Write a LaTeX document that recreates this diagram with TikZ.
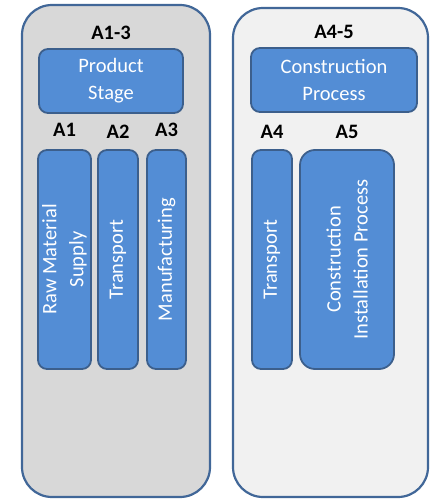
\documentclass[tikz,border=0pt]{standalone}
\usepackage{fontspec}
\setmainfont{Carlito}
\usepackage{tikz}
\usetikzlibrary{positioning}
\definecolor{boxblue}{RGB}{83,141,213}
\definecolor{edgeblue}{RGB}{60,95,140}
\definecolor{frameblue}{RGB}{65,103,152}
\definecolor{darkpanel}{RGB}{216,216,216}
\definecolor{lightpanel}{RGB}{241,241,241}
\tikzstyle{panel} = [rectangle, draw=frameblue, line width=2.2pt, rounded corners=30pt, inner sep=0pt]
\tikzstyle{block} = [rectangle, draw=edgeblue, line width=1.8pt, fill=boxblue,
rounded corners=9pt, inner sep=0pt, text=white, align=center, font=\fontsize{20.5}{27}\selectfont]
\tikzstyle{bar} = [block, minimum height=219pt]
\tikzstyle{vtext} = [rotate=90, text=white, align=center, inner sep=0pt, font=\fontsize{20.5}{27}\selectfont]
\tikzstyle{tag} = [inner sep=0pt, font=\bfseries\fontsize{20.5}{22}\selectfont]

\begin{document}
\begin{tikzpicture}[x=1pt, y=-1pt]
\useasboundingbox (0,0) rectangle (429,500);
    % panels
\node [panel, fill=darkpanel, minimum width=188pt, minimum height=492pt] (left) at (116,251) {};
\node [panel, fill=lightpanel, minimum width=195pt, minimum height=489pt] (right) at (330.5,252.5) {};
    % stage boxes
\node [block, minimum width=144pt, minimum height=64pt] (prod) at (111,81) {Product\\Stage};
\node [block, minimum width=166pt, minimum height=64pt] (constr) at (334,80) {Construction\\Process};
\node [tag, above=8pt of prod] (l13) {A1-3};
\node [tag, above=8pt of constr] (l45) {A4-5};
    % modules
\node [bar, minimum width=53pt] (a1) at (64.5,259.5) {};
\node [bar, minimum width=40pt] (a2) at (118,259.5) {};
\node [bar, minimum width=39pt] (a3) at (166.5,259.5) {};
\node [bar, minimum width=40pt] (a4) at (272,259.5) {};
\node [bar, minimum width=94pt, rounded corners=15pt] (a5) at (347,259.5) {};
\node [vtext] (t1) at (a1) {Raw Material\\Supply};
\node [vtext] (t2) at (a2) {Transport};
\node [vtext] (t3) at (a3) {Manufacturing};
\node [vtext] (t4) at (a4) {Transport};
\node [vtext] (t5) at (a5) {Construction\\Installation Process};
\node [tag, above=12pt of a1] (l1) {A1};
\node [tag, above=10pt of a2] (l2) {A2};
\node [tag, above=12pt of a3] (l3) {A3};
\node [tag, above=10pt of a4] (l4) {A4};
\node [tag, above=10pt of a5] (l5) {A5};
\end{tikzpicture}
\end{document}
